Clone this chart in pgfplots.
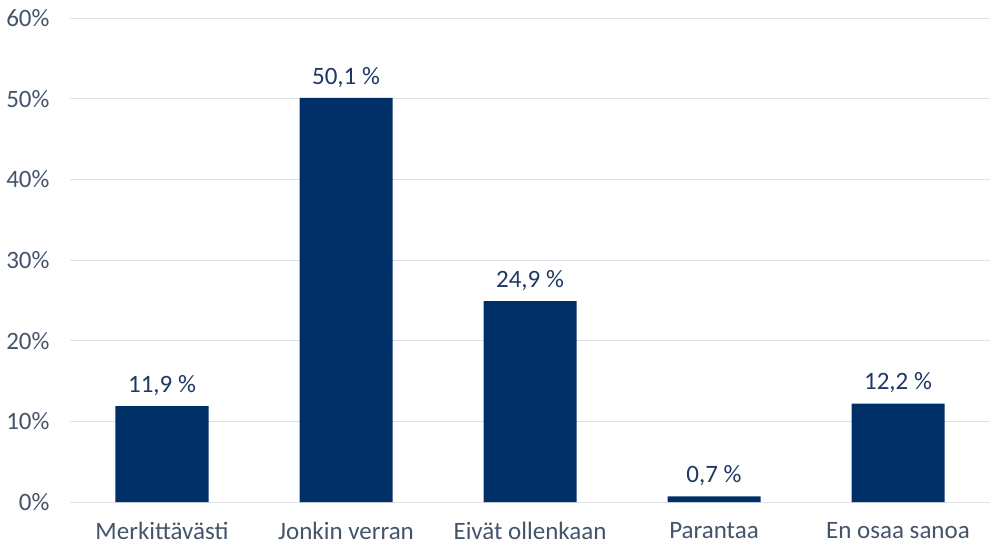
\documentclass[border=0pt]{standalone}
\usepackage{pgfplots}
\pgfplotsset{compat=1.18}
\usepackage{fontspec}
\setmainfont{Carlito}
\definecolor{barc}{HTML}{002F67}
\definecolor{valc}{HTML}{1F3864}
\definecolor{tickc}{HTML}{44546A}
\definecolor{gridc}{HTML}{DCE1E8}
\begin{document}
\begin{tikzpicture}
\useasboundingbox (-70pt,-44pt) rectangle (923pt,502pt);
\begin{axis}[
  at={(0,0)}, anchor=south west,
  scale only axis, width=920pt, height=484pt,
  xmin=-0.5, xmax=4.5, ymin=0, ymax=60,
  ytick={0,10,20,30,40,50,60},
  yticklabel={\pgfmathprintnumber{\tick}\%},
  xtick={0,1,2,3,4},
  xticklabels={Merkittävästi, Jonkin verran, Eivät ollenkaan, Parantaa, En osaa sanoa},
  /pgf/number format/assume math mode=true,
  tick label style={font=\fontsize{25}{30}\selectfont, text=tickc},
  separate axis lines,
  axis x line*=bottom, axis y line*=left,
  x axis line style={gridc, line width=1pt, -},
  y axis line style={draw=none},
  major tick length=0pt,
  ymajorgrids, grid style={gridc, line width=1pt},
  xticklabel style={yshift=-17pt},
  yticklabel style={xshift=-17pt},
  ybar, bar width=93pt,
  nodes near coords={\pgfmathprintnumber[fixed,zerofill,precision=1,use comma]{\pgfplotspointmeta}~\%},
  every node near coord/.append style={font=\fontsize{25}{30}\selectfont, text=valc, yshift=7pt},
  clip=false,
]
\addplot[fill=barc, draw=none] coordinates {(0,11.9) (1,50.1) (2,24.9) (3,0.7) (4,12.2)};
\end{axis}
\end{tikzpicture}
\end{document}
